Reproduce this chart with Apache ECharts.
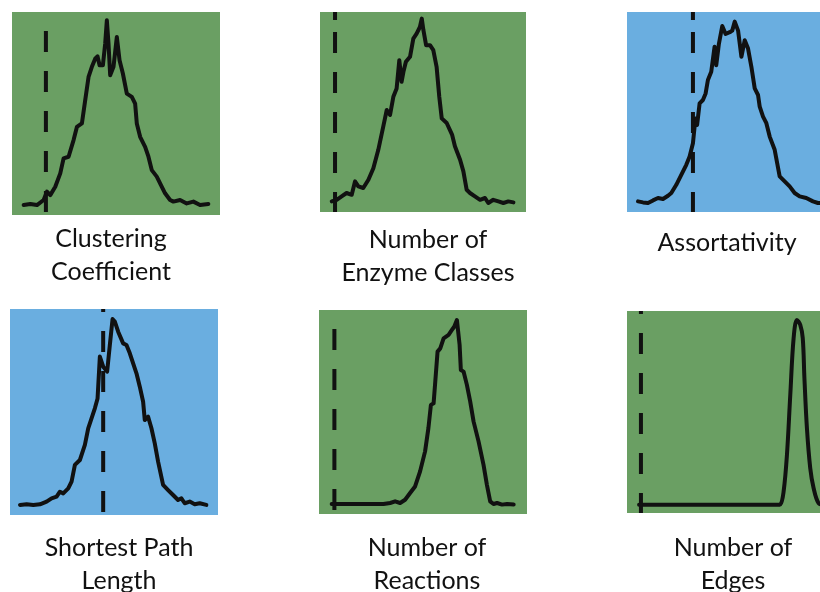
<!DOCTYPE html>
<html>
<head>
<meta charset="utf-8">
<script src="https://cdn.jsdelivr.net/npm/echarts@6/dist/echarts.min.js"></script>
<style>
html,body{margin:0;padding:0;background:#fff;}
#chart{width:820px;height:592px;}
</style>
</head>
<body>
<div id="chart"></div>
<script>
// Panel labels
var labels = ["Clustering\nCoefficient", "Number of\nEnzyme Classes", "Assortativity",
              "Shortest Path\nLength", "Number of\nReactions", "Number of\nEdges"];
// Reference (dashed) line positions, x in percent of panel range
var dashX = [16.3, 7.3, 31.7, 44.8, 7.4, 6.7];
// Panel background kind
var panelKind = ["green", "green", "blue", "blue", "green", "green"];

// Distribution curves (x: percent of panel range, y: percent of panel height)
var p1x = [5.6,8.8,12.0,15.2,16.8,18.4,20.8,23.2,24.8,27.2,29.6,31.2,33.6,35.2,36.8,38.4,40.0,41.1,42.1,43.7,44.8,45.6,46.4,47.2,48.8,50.4,51.7,53.3,55.2,57.6,59.2,60.0,61.6,64.0,65.6,67.2,69.6,71.2,73.6,76.0,77.6,80.8,84.0,87.2,90.4,94.4];
var p1y = [4.9,5.4,4.9,7.4,11.5,9.8,13.9,20.5,27.9,28.7,36.9,43.4,45.1,56.6,68.0,73.0,77.0,78.2,73.8,73.8,84.4,95.9,84.4,68.9,73.0,87.7,76.2,69.7,59.8,58.2,54.9,45.1,38.5,33.6,28.7,22.1,18.9,15.6,10.7,7.4,6.6,7.4,5.7,6.6,4.9,5.4];

var p2x = [5.7,8.1,10.5,12.9,15.4,17.0,18.6,21.0,23.5,25.9,28.3,30.7,32.4,34.0,35.6,37.2,38.5,39.6,40.5,41.7,43.7,45.3,46.9,48.5,49.4,50.2,51.5,53.4,55.0,56.6,57.9,59.1,61.5,64.1,65.5,68.0,69.6,71.2,72.8,75.2,77.7,80.1,81.7,84.1,86.6,89.0,91.4,93.9];
var p2y = [5.3,6.1,7.8,9.5,8.6,15.3,12.8,12.0,16.1,21.9,31.1,42.7,51.0,48.5,57.6,61.8,75.9,65.1,70.1,75.1,77.6,86.7,89.2,92.5,96.7,90.9,83.4,83.4,80.9,72.6,57.6,46.8,44.5,38.7,32.9,26.1,20.3,11.1,9.5,7.8,6.1,7.0,4.5,6.1,5.3,4.5,5.3,4.8];

var p3x = [5.3,7.7,10.1,12.5,14.9,17.3,19.7,21.3,23.7,26.1,28.5,30.1,31.7,32.9,33.7,34.9,36.5,37.8,38.9,40.5,42.1,42.9,44.2,45.8,47.4,49.4,50.6,51.8,53.4,55.0,56.6,58.2,59.8,61.4,63.0,63.8,65.4,67.0,68.6,71.0,73.4,75.8,78.2,80.6,83.0,86.2,89.4,91.8,95.0];
var p3y = [5.3,4.8,4.5,5.8,7.0,6.5,8.1,9.5,13.6,18.6,23.6,27.7,34.4,46.8,43.5,54.3,56.0,59.3,66.0,70.1,82.6,73.4,84.2,93.0,89.0,89.9,90.7,95.2,90.7,77.6,85.9,81.7,72.6,61.8,58.5,52.7,47.7,44.4,37.7,31.1,17.8,15.3,12.8,9.5,7.8,7.0,5.3,4.5,4.6];

var p4x = [4.8,8.0,11.2,14.4,17.6,20.0,22.4,24.0,25.6,28.0,29.6,31.2,33.6,36.0,37.6,39.2,40.8,42.1,43.2,44.8,46.7,48.0,49.3,50.4,52.0,54.4,56.0,57.6,59.2,60.8,62.4,64.0,64.8,66.4,68.0,69.6,71.2,73.6,76.0,78.4,80.8,82.4,84.0,86.4,88.8,91.2,94.4];
var p4y = [4.9,5.2,4.9,5.2,6.5,8.1,8.9,11.3,10.5,12.9,16.2,24.3,26.7,34.0,42.1,46.9,51.8,56.6,76.9,72.0,69.6,82.5,95.1,93.9,89.0,83.3,82.5,78.5,73.6,68.8,62.3,55.0,46.1,47.7,42.1,34.8,25.9,14.6,12.1,9.7,7.3,8.1,5.7,6.5,5.2,5.7,4.9];

var p5x = [6.1,14.9,23.0,31.0,34.2,36.6,39.0,41.4,43.8,46.2,48.6,51.0,52.6,53.8,55.1,55.9,57.0,58.3,59.9,62.3,63.9,65.0,66.3,67.6,68.2,69.5,71.1,72.7,74.3,76.7,79.1,80.7,82.3,83.9,85.6,88.0,90.4,93.6];
var p5y = [4.9,4.9,4.9,4.9,5.4,6.2,5.4,7.0,10.3,13.5,20.9,30.7,42.1,53.5,54.3,64.9,79.6,81.2,86.1,87.8,90.2,91.8,95.1,82.9,70.6,69.8,63.3,55.1,45.4,35.6,24.1,14.4,6.2,4.9,5.4,4.6,4.9,4.6];

var p6x = [5.8,20,40,60,72,73.7,75.3,76.9,78.5,80.1,81.7,83.3,84.5,85.3,86.5,88.1,89.7,92.1,95,100];
var p6y = [4.1,4.1,4.1,4.1,4.1,4.3,10.7,28.8,58.5,86.5,95.6,93.1,86.5,66.7,42.0,22.2,12.4,4.9,4.1,4.1];

var curvesX = [p1x, p2x, p3x, p4x, p5x, p6x];
var curvesY = [p1y, p2y, p3y, p4y, p5y, p6y];

// ---- layout / style (not data) ----
var colors = { green: "#6a9f63", blue: "#6aaee0" };
var grids = [
  {left: 12,  top: 12,  width: 208, height: 203},
  {left: 320, top: 12,  width: 206, height: 200},
  {left: 627, top: 12,  width: 208, height: 200},
  {left: 10,  top: 309, width: 208, height: 206},
  {left: 319, top: 310, width: 208, height: 204},
  {left: 627, top: 311, width: 208, height: 202}
];
var dashPatterns = [
  {type: [21,19], offset: 21},
  {type: [8,12,21,19,21,19,21,19,21,19,21,19], offset: 0},
  {type: [8,12,21,19,21,19,21,19,21,19,21,19], offset: 0},
  {type: [21,19], offset: 18},
  {type: [21,19], offset: 21},
  {type: [21,19], offset: 18}
];
var labelPos = [
  {x: 111, y: 222}, {x: 428, y: 223}, {x: 727, y: 226},
  {x: 119, y: 531}, {x: 427, y: 531}, {x: 733, y: 531}
];
var smoothFlags = [false, false, false, false, false, 0.35];

function zip(xs, ys) {
  var n = Math.min(xs.length, ys.length), out = [];
  for (var i = 0; i < n; i++) out.push([xs[i], ys[i]]);
  return out;
}

var option = {
  animation: false,
  backgroundColor: "#ffffff",
  grid: [], xAxis: [], yAxis: [], series: [], title: []
};

for (var i = 0; i < 6; i++) {
  var g = grids[i];
  option.grid.push({
    left: g.left, top: g.top, width: g.width, height: g.height,
    show: true, backgroundColor: colors[panelKind[i]], borderWidth: 0,
    outerBoundsMode: "none"
  });
  option.xAxis.push({ gridIndex: i, type: "value", min: 0, max: 100, show: false });
  option.yAxis.push({ gridIndex: i, type: "value", min: 0, max: 100, show: false });
  option.series.push({
    type: "line", xAxisIndex: i, yAxisIndex: i,
    data: zip(curvesX[i], curvesY[i]),
    showSymbol: false, symbol: "none",
    smooth: smoothFlags[i],
    lineStyle: { color: "#111111", width: 4, join: "round", cap: "round" },
    z: 3
  });
  option.series.push({
    type: "line", xAxisIndex: i, yAxisIndex: i,
    data: [[dashX[i], 100], [dashX[i], 0]],
    showSymbol: false, symbol: "none",
    lineStyle: { color: "#111111", width: 4, type: dashPatterns[i].type,
                 dashOffset: dashPatterns[i].offset, cap: "butt" },
    z: 4
  });
  option.title.push({
    text: labels[i],
    left: labelPos[i].x, top: labelPos[i].y,
    textAlign: "center",
    padding: 0,
    textStyle: {
      fontFamily: "Lato", fontSize: 25, fontWeight: "normal",
      color: "#111111", lineHeight: 33
    }
  });
}

var chart = echarts.init(document.getElementById("chart"), null, {renderer: "canvas"});
chart.setOption(option);
</script>
</body>
</html>
